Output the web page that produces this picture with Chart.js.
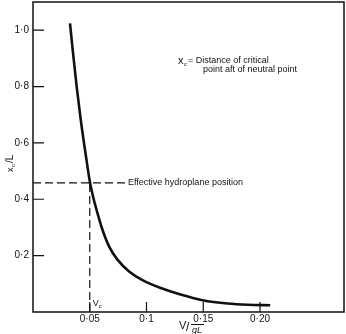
<!DOCTYPE html>
<html>
<head>
<meta charset="utf-8">
<script src="https://cdn.jsdelivr.net/npm/chart.js@4"></script>
<style>
    html, body { margin: 0; padding: 0; background: #fff; }
    #wrap { width: 346px; height: 334px; }
</style>
</head>
<body>
<div id="wrap"><canvas id="criticalChart" width="346" height="334"></canvas></div>
<script>
// curve
const speedValues = [0.0326, 0.0353, 0.0385, 0.0421, 0.0462, 0.0503, 0.0529, 0.0568, 0.0612, 0.0670, 0.0744, 0.0847, 0.0965, 0.1126, 0.130, 0.1494, 0.1714, 0.189, 0.209];
const positionValues = [1.024, 0.918, 0.799, 0.681, 0.565, 0.458, 0.410, 0.351, 0.292, 0.233, 0.186, 0.144, 0.113, 0.085, 0.062, 0.042, 0.030, 0.0255, 0.024];

// tick values and their labels
const xTickValues = [0.05, 0.1, 0.15, 0.2];
const xTickLabels = ['0·05', '0·1', '0·15', '0·20'];
const yTickValues = [0.2, 0.4, 0.6, 0.8, 1.0];
const yTickLabels = ['0·2', '0·4', '0·6', '0·8', '1·0'];

// effective hydroplane position / critical speed
const hydroplaneY = [0.458, 0.458];
const hydroplaneX = [0, 0.082];
const criticalX = [0.05, 0.05];
const criticalY = [0, 0.458];

const ink = '#111';
const fontName = '"Liberation Sans", Arial, sans-serif';

function toPoints(xs, ys) {
    return xs.map((x, i) => ({ x: x, y: ys[i] }));
}

// frame, inward ticks and the texts
const paperPlugin = {
    id: 'paper',
    afterDraw(chart) {
        const ctx = chart.ctx;
        const area = chart.chartArea;
        const xs = chart.scales.x;
        const ys = chart.scales.y;

        ctx.save();
        ctx.strokeStyle = ink;
        ctx.lineWidth = 1.5;
        ctx.strokeRect(area.left, area.top, area.right - area.left, area.bottom - area.top);

        ctx.lineWidth = 1.2;
        ctx.beginPath();
        yTickValues.forEach(v => {
            const py = ys.getPixelForValue(v);
            ctx.moveTo(area.left, py);
            ctx.lineTo(area.left + 11, py);
        });
        xTickValues.forEach(v => {
            const px = xs.getPixelForValue(v);
            ctx.moveTo(px, area.bottom);
            ctx.lineTo(px, area.bottom - 10);
        });
        ctx.stroke();

        ctx.fillStyle = ink;
        ctx.textBaseline = 'middle';

        // y title  x_c / L
        ctx.save();
        ctx.translate(11, 161);
        ctx.rotate(-Math.PI / 2);
        ctx.textAlign = 'left';
        ctx.font = '9px ' + fontName;
        ctx.fillText('x', -11, 0);
        ctx.font = '6px ' + fontName;
        ctx.fillText('c', -6, 2);
        ctx.font = '10px ' + fontName;
        ctx.fillText('/L', -2, -1);
        ctx.restore();

        // x title  V / sqrt(gL)
        ctx.textAlign = 'left';
        ctx.font = '11px ' + fontName;
        ctx.fillText('V', 179, 326);
        ctx.font = '12px ' + fontName;
        ctx.fillText('/', 186, 328);
        ctx.font = 'italic 9px ' + fontName;
        ctx.fillText('gL', 192, 330);
        ctx.lineWidth = 1;
        ctx.beginPath();
        ctx.moveTo(191, 324.5);
        ctx.lineTo(204, 324.5);
        ctx.stroke();

        // definition note
        ctx.font = '11px ' + fontName;
        ctx.fillText('x', 178, 61);
        ctx.font = '6px ' + fontName;
        ctx.fillText('c', 184, 64);
        ctx.font = '9px ' + fontName;
        ctx.fillText('= Distance of critical', 188, 61);
        ctx.fillText('point aft of neutral point', 203, 70);

        // hydroplane label
        const hy = ys.getPixelForValue(hydroplaneY[0]);
        ctx.fillText('Effective hydroplane position', 128, hy);

        // Vc label
        const vx = xs.getPixelForValue(criticalX[0]);
        ctx.font = '9px ' + fontName;
        ctx.fillText('V', vx + 3, 304);
        ctx.font = '6px ' + fontName;
        ctx.fillText('c', vx + 9, 306);
        ctx.restore();
    }
};

const ctx = document.getElementById('criticalChart').getContext('2d');
new Chart(ctx, {
    type: 'scatter',
    data: {
        datasets: [{
            data: toPoints(speedValues, positionValues),
            showLine: true,
            borderColor: ink,
            borderWidth: 2.6,
            pointRadius: 0,
            cubicInterpolationMode: 'monotone'
        }, {
            data: toPoints(hydroplaneX, hydroplaneY),
            showLine: true,
            borderColor: ink,
            borderWidth: 1.2,
            borderDash: [8, 4],
            pointRadius: 0
        }, {
            data: toPoints(criticalX, criticalY),
            showLine: true,
            borderColor: ink,
            borderWidth: 1.2,
            borderDash: [8, 4],
            pointRadius: 0
        }]
    },
    options: {
        responsive: false,
        animation: false,
        layout: { padding: { top: 2, right: 2, left: 0, bottom: 0 } },
        plugins: {
            legend: { display: false },
            tooltip: { enabled: false }
        },
        scales: {
            x: {
                type: 'linear',
                min: 0,
                max: 0.274,
                grid: { display: false, drawTicks: false },
                border: { display: false },
                afterBuildTicks: scale => { scale.ticks = xTickValues.map(v => ({ value: v })); },
                afterFit: scale => {
                    scale.height = 22;
                    scale.paddingLeft = 0;
                    scale.paddingRight = 0;
                },
                ticks: {
                    padding: 1,
                    color: ink,
                    font: { family: fontName, size: 10 },
                    maxRotation: 0,
                    callback: value => xTickLabels[xTickValues.indexOf(value)]
                }
            },
            y: {
                type: 'linear',
                min: 0,
                max: 1.1,
                grid: { display: false, drawTicks: false },
                border: { display: false },
                afterBuildTicks: scale => { scale.ticks = yTickValues.map(v => ({ value: v })); },
                afterFit: scale => {
                    scale.width = 33;
                    scale.paddingTop = 0;
                    scale.paddingBottom = 0;
                },
                ticks: {
                    padding: 4,
                    color: ink,
                    font: { family: fontName, size: 10 },
                    callback: value => yTickLabels[yTickValues.indexOf(value)]
                }
            }
        }
    },
    plugins: [paperPlugin]
});
</script>
</body>
</html>
